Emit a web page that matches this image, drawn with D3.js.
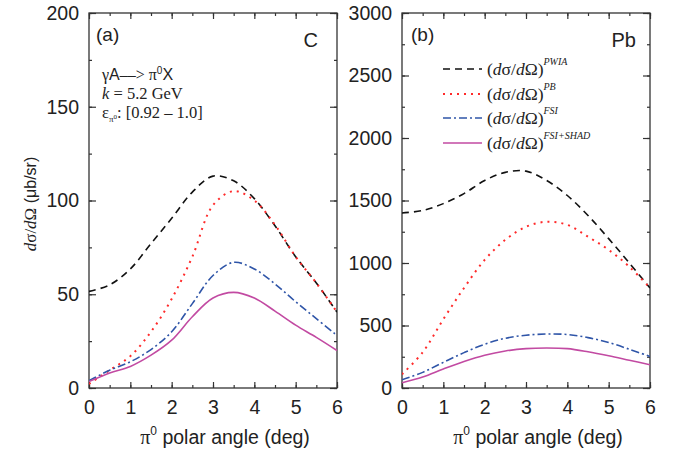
<!DOCTYPE html>
<html>
<head>
<meta charset="utf-8">
<script src="https://cdn.jsdelivr.net/npm/d3@7"></script>
<style>
  body { margin: 0; background: #fff; }
  svg { display: block; }
  .sans { font-family: "Liberation Sans", Arial, Helvetica, sans-serif; }
  .serif { font-family: "Liberation Serif", "Times New Roman", serif; }
</style>
</head>
<body>
<svg id="chart" width="680" height="452"></svg>
<script>
// Polar angle grid (deg)
const angles = [0, 0.5, 1, 1.5, 2, 2.5, 3, 3.5, 4, 4.5, 5, 5.5, 6];

// Carbon, dσ/dΩ (μb/sr)
const cPWIA     = [51.5, 55, 63.5, 77, 90.5, 104.5, 113, 110.5, 101, 86.5, 70, 56, 40.5];
const cPB       = [2.2, 9.5, 17, 30, 47.5, 70, 97.5, 105, 100, 87, 70, 56, 40.5];
const cFSI      = [3.9, 9.5, 14, 20.5, 30, 45, 60, 67, 63.5, 55.5, 46, 37, 28];
const cFSISHAD  = [3.4, 8, 11.5, 17.5, 25.5, 38, 48, 51, 48, 41, 33.5, 27, 20];

// Lead, dσ/dΩ (μb/sr)
const pbPWIA    = [1400, 1420, 1475, 1555, 1660, 1725, 1735, 1660, 1540, 1380, 1195, 1000, 800];
const pbPB      = [110, 285, 550, 800, 1025, 1185, 1290, 1330, 1305, 1210, 1105, 970, 800];
const pbFSI     = [66, 125, 205, 283, 350, 398, 422, 432, 428, 403, 364, 310, 252];
const pbFSISHAD = [42, 88, 152, 212, 262, 296, 315, 320, 315, 290, 258, 222, 186];

// Axis ticks
const xTicks  = [0, 1, 2, 3, 4, 5, 6];
const cTicks  = [0, 50, 100, 150, 200];
const pbTicks = [0, 500, 1000, 1500, 2000, 2500, 3000];

const seriesStyle = [
  { key: "PWIA",      color: "#111111", dash: "7,5",     sup: "PWIA" },
  { key: "PB",        color: "#ff2a2a", dash: "2,5",     sup: "PB" },
  { key: "FSI",       color: "#2f55a8", dash: "8,3,2,3", sup: "FSI" },
  { key: "FSI+SHAD",  color: "#c24aa2", dash: null,      sup: "FSI+SHAD" }
];

const svg = d3.select("#chart");
const axisColor = "#333";
const tickFont = 19.5;

function panel(opts) {
  const { x0, x1, y0, y1, yMax, yTicks, series, id } = opts;
  const x = d3.scaleLinear().domain([0, 6]).range([x0, x1]);
  const y = d3.scaleLinear().domain([0, yMax]).range([y1, y0]);
  const g = svg.append("g");

  g.append("clipPath").attr("id", id).append("rect")
    .attr("x", x0).attr("y", y0).attr("width", x1 - x0).attr("height", y1 - y0);

  const minorX = d3.range(0, 6.01, 0.5);
  const minorY = d3.range(0, yMax + 1e-6, yTicks[1] / 2);

  function addAxis(axisFn, scale, transform, ticks, size, labels) {
    const a = axisFn(scale).tickValues(ticks).tickSizeInner(size).tickSizeOuter(0)
      .tickPadding(labels ? 5 : 0)
      .tickFormat(labels ? d3.format("d") : "");
    const ag = g.append("g").attr("transform", transform).call(a);
    ag.select(".domain").remove();
    ag.selectAll("line").attr("stroke", axisColor).attr("stroke-width", 1.2);
    ag.selectAll("text").attr("font-size", tickFont).attr("fill", "#222")
      .attr("font-family", "Liberation Sans, Arial, sans-serif");
    return ag;
  }
  // bottom
  addAxis(d3.axisBottom, x, `translate(0,${y1})`, minorX, -3, false);
  const bx = addAxis(d3.axisBottom, x, `translate(0,${y1})`, xTicks, -6, true);
  bx.selectAll("text").attr("y", 12).attr("dy", "0.71em");
  // top
  addAxis(d3.axisTop, x, `translate(0,${y0})`, minorX, -3, false);
  addAxis(d3.axisTop, x, `translate(0,${y0})`, xTicks, -6, false);
  // left
  addAxis(d3.axisLeft, y, `translate(${x0},0)`, minorY, -3, false);
  const ly = addAxis(d3.axisLeft, y, `translate(${x0},0)`, yTicks, -7, true);
  ly.selectAll("text").attr("x", -10);
  // right
  addAxis(d3.axisRight, y, `translate(${x1},0)`, minorY, -3, false);
  addAxis(d3.axisRight, y, `translate(${x1},0)`, yTicks, -7, false);

  g.append("rect").attr("x", x0).attr("y", y0).attr("width", x1 - x0).attr("height", y1 - y0)
    .attr("fill", "none").attr("stroke", axisColor).attr("stroke-width", 1.3);

  const line = d3.line()
    .x((d, i) => x(angles[i]))
    .y(d => y(d))
    .curve(d3.curveCatmullRom.alpha(0.5));

  const lg = g.append("g").attr("clip-path", `url(#${id})`);
  series.forEach((vals, i) => {
    const st = seriesStyle[i];
    lg.append("path").datum(vals)
      .attr("d", line)
      .attr("fill", "none")
      .attr("stroke", st.color)
      .attr("stroke-width", i === 1 ? 2 : 1.6)
      .attr("stroke-dasharray", st.dash);
  });

  // x-axis title
  const t = g.append("text").attr("class", "sans").attr("font-size", 19.5).attr("fill", "#222")
    .attr("x", (x0 + x1) / 2 + 12).attr("y", 444).attr("text-anchor", "middle");
  t.append("tspan").attr("class", "serif").attr("font-size", 20).text("π");
  t.append("tspan").attr("font-size", 12).attr("dy", -9).text("0");
  t.append("tspan").attr("dy", 9).text(" polar angle (deg)");
  return g;
}

// Panel (a): carbon
panel({ id: "clipA", x0: 89, x1: 337, y0: 13, y1: 388, yMax: 200, yTicks: cTicks,
  series: [cPWIA, cPB, cFSI, cFSISHAD] });
// Panel (b): lead
panel({ id: "clipB", x0: 402, x1: 650, y0: 13, y1: 388, yMax: 3000, yTicks: pbTicks,
  series: [pbPWIA, pbPB, pbFSI, pbFSISHAD] });

// Y-axis title
const yt = svg.append("text").attr("transform", "translate(36,204) rotate(-90)")
  .attr("text-anchor", "middle").attr("font-size", 17).attr("fill", "#222");
yt.append("tspan").attr("class", "serif").attr("font-style", "italic").text("d");
yt.append("tspan").attr("class", "serif").text("σ/");
yt.append("tspan").attr("class", "serif").attr("font-style", "italic").text("d");
yt.append("tspan").attr("class", "serif").text("Ω");
yt.append("tspan").attr("class", "sans").attr("font-size", 16).text(" (μb/sr)");

// Panel labels
svg.append("text").attr("class", "sans").attr("x", 96).attr("y", 41).attr("font-size", 19)
  .attr("fill", "#222").text("(a)");
svg.append("text").attr("class", "sans").attr("x", 318).attr("y", 47).attr("font-size", 20)
  .attr("text-anchor", "end").attr("fill", "#222").text("C");
svg.append("text").attr("class", "sans").attr("x", 411).attr("y", 41).attr("font-size", 19)
  .attr("fill", "#222").text("(b)");
svg.append("text").attr("class", "sans").attr("x", 636).attr("y", 47).attr("font-size", 20)
  .attr("text-anchor", "end").attr("fill", "#222").text("Pb");

// Reaction annotation in panel (a)
const r1 = svg.append("text").attr("x", 102).attr("y", 80).attr("font-size", 16).attr("fill", "#222");
r1.append("tspan").attr("class", "serif").text("γ");
r1.append("tspan").attr("class", "sans").text("A");
r1.append("tspan").attr("class", "serif").text("––> π");
r1.append("tspan").attr("class", "sans").attr("font-size", 10).attr("dy", -6).text("0");
r1.append("tspan").attr("class", "sans").attr("dy", 6).text("X");

const r2 = svg.append("text").attr("class", "serif").attr("x", 102).attr("y", 99)
  .attr("font-size", 16.5).attr("fill", "#222");
r2.append("tspan").attr("font-style", "italic").text("k");
r2.append("tspan").text(" = 5.2 GeV");

const r3 = svg.append("text").attr("class", "serif").attr("x", 102).attr("y", 118)
  .attr("font-size", 16.5).attr("fill", "#222");
r3.append("tspan").text("ε");
r3.append("tspan").attr("font-size", 9).attr("dy", 4).text("π");
r3.append("tspan").attr("font-size", 7).attr("dy", -3).text("0");
r3.append("tspan").attr("dy", -1).text(": [0.92 – 1.0]");

// Legend in panel (b)
const legendY = [69, 94, 118, 143];
seriesStyle.forEach((st, i) => {
  const ly = legendY[i];
  svg.append("line").attr("x1", 443).attr("x2", 482).attr("y1", ly).attr("y2", ly)
    .attr("stroke", st.color).attr("stroke-width", i === 1 ? 2 : 1.6)
    .attr("stroke-dasharray", st.dash);
  const t = svg.append("text").attr("class", "serif").attr("x", 487).attr("y", ly + 6)
    .attr("font-size", 17.5).attr("fill", "#222");
  t.append("tspan").text("(");
  t.append("tspan").attr("font-style", "italic").text("d");
  t.append("tspan").text("σ/");
  t.append("tspan").attr("font-style", "italic").text("d");
  t.append("tspan").text("Ω)");
  t.append("tspan").attr("font-style", "italic").attr("font-size", 10).attr("dy", -10).text(st.sup);
});
</script>
</body>
</html>
